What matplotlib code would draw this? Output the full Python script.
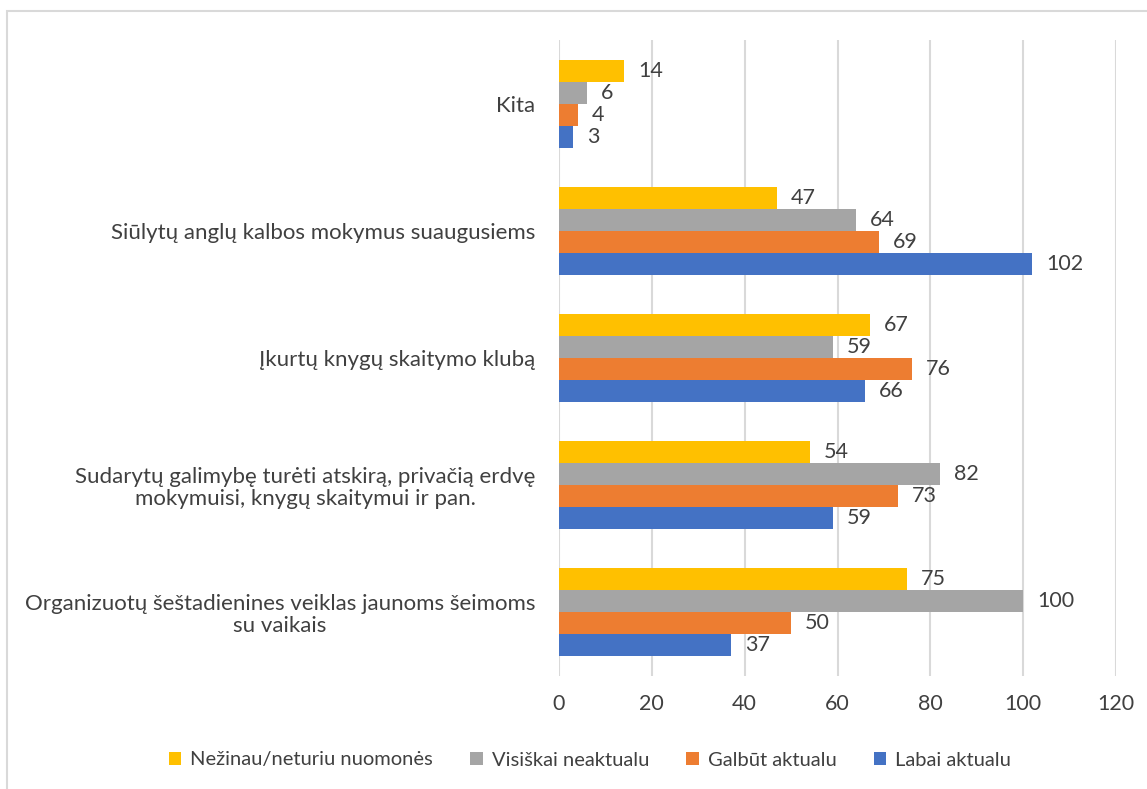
import numpy as np
import matplotlib.pyplot as plt
from matplotlib.patches import Rectangle

plt.rcParams['font.family'] = ['Lato', 'DejaVu Sans']

categories = [
    "Organizuotų šeštadienines veiklas jaunoms šeimoms\nsu vaikais",
    "Sudarytų galimybę turėti atskirą, privačią erdvę\nmokymuisi, knygų skaitymui ir pan.",
    "Įkurtų knygų skaitymo klubą",
    "Siūlytų anglų kalbos mokymus suaugusiems",
    "Kita",
]
series_names = ["Nežinau/neturiu nuomonės", "Visiškai neaktualu", "Galbūt aktualu", "Labai aktualu"]
nezinau = [75, 54, 67, 47, 14]
visiskai = [100, 82, 59, 64, 6]
galbut = [50, 73, 76, 69, 4]
labai = [37, 59, 66, 102, 3]
colors = ['#FFC000', '#A5A5A5', '#ED7D31', '#4472C4']
text_color = '#404040'

fig = plt.figure(figsize=(11.47, 7.89), dpi=100)
ax = fig.add_axes([559/1147, 1 - 676/789, (1116 - 559)/1147, (676 - 40)/789])

# chart border (partly cropped in the original)
fig.patches.append(Rectangle((7.5/1147, -0.05), 1.1, 1 - 10.5/789 + 0.05,
                             transform=fig.transFigure, fill=False,
                             edgecolor='#D9D9D9', linewidth=1.5))

y = np.arange(len(categories))
h = 0.173
offsets = [1.5 * h, 0.5 * h, -0.5 * h, -1.5 * h]
for vals, name, col, off in zip([nezinau, visiskai, galbut, labai], series_names, colors, offsets):
    bars = ax.barh(y + off, vals, height=h, color=col, label=name, zorder=3)
    ax.bar_label(bars, padding=10, fontsize=15.5, color=text_color)

ax.set_xlim(0, 120)
ax.set_ylim(-0.5, 4.5)
ax.set_xticks(np.arange(0, 121, 20))
ax.set_yticks(y)
ax.set_yticklabels(categories, multialignment='center', linespacing=1.12)
ax.tick_params(axis='x', length=0, pad=13, labelsize=15.5, labelcolor=text_color)
ax.tick_params(axis='y', length=0, pad=17, labelsize=16, labelcolor=text_color)
ax.grid(axis='x', color='#D9D9D9', linewidth=1.5, zorder=0)
for s in ax.spines.values():
    s.set_visible(False)

handles, labels = ax.get_legend_handles_labels()
fig.legend(handles, labels, loc='center', bbox_to_anchor=(590/1147, 1 - 760/789),
           ncol=4, frameon=False, fontsize=14.5, labelcolor=text_color,
           handlelength=0.62, handleheight=0.62, handletextpad=0.45, columnspacing=1.85)

fig.savefig('out.png', dpi=100)
